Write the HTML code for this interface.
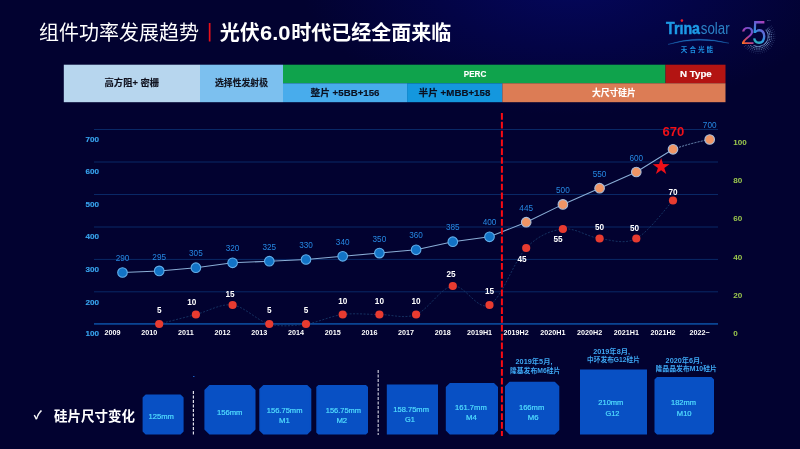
<!DOCTYPE html>
<html lang="zh-CN"><head><meta charset="utf-8"><title>组件功率发展趋势</title>
<style>
html,body{margin:0;padding:0;background:#020230;}
body{width:800px;height:449px;overflow:hidden;}
svg{display:block;font-family:"Liberation Sans","Noto Sans CJK SC",sans-serif;}
.t{text-anchor:middle;}
</style></head><body>
<svg width="800" height="449" viewBox="0 0 800 449">
<defs>
<radialGradient id="bg" gradientUnits="userSpaceOnUse" cx="0" cy="0" r="1" gradientTransform="translate(570 -20) scale(270 135)">
<stop offset="0" stop-color="#04075c"/><stop offset="0.5" stop-color="#030446"/><stop offset="1" stop-color="#020230"/>
</radialGradient>
<linearGradient id="g2" x1="0.8" y1="0" x2="0.2" y2="1">
<stop offset="0" stop-color="#2a78d8"/><stop offset="0.45" stop-color="#9a3cc0"/><stop offset="0.8" stop-color="#f0562e"/><stop offset="1" stop-color="#f0b030"/>
</linearGradient>
<linearGradient id="g5" x1="0.7" y1="0" x2="0.3" y2="1">
<stop offset="0" stop-color="#e030a0"/><stop offset="0.3" stop-color="#7a50d0"/><stop offset="0.6" stop-color="#2a9ae0"/><stop offset="1" stop-color="#30c0a0"/>
</linearGradient>
</defs>
<rect width="800" height="449" fill="#020230"/>
<rect width="800" height="449" fill="url(#bg)"/>

<text x="39" y="39.5" font-size="20" fill="#ffffff" font-weight="400">组件功率发展趋势</text>
<rect x="208.8" y="23" width="1.7" height="18.5" fill="#e8101a"/>
<text y="39.5" font-size="20" fill="#ffffff" font-weight="700"><tspan x="219.7">光伏</tspan><tspan x="260" textLength="30.5" lengthAdjust="spacingAndGlyphs">6.0</tspan><tspan x="291.2">时代已经全面来临</tspan></text>
<text x="666" y="34" font-size="16.5" font-weight="700" fill="#1d9be6" stroke="#1d9be6" stroke-width="0.5" textLength="34" lengthAdjust="spacingAndGlyphs">Trına</text>
<text x="700.8" y="34" font-size="16" fill="#2b82c6" textLength="28.8" lengthAdjust="spacingAndGlyphs">solar</text>
<circle cx="681.9" cy="20.6" r="1.3" fill="#e8202a"/>
<path d="M668 44.4 Q697 34.5 729 43.2 Q697 36.6 668 44.4 Z" fill="#1d6fc0" stroke="#1d6fc0" stroke-width="0.3"/>
<text x="698" y="51.5" font-size="6.6" font-weight="700" fill="#1d8fe0" class="t" letter-spacing="2">天合光能</text>
<text x="740.8" y="43.8" font-size="24.5" fill="url(#g2)" textLength="14" lengthAdjust="spacingAndGlyphs">2</text>
<text x="752" y="44" font-size="33" fill="url(#g5)" textLength="14.5" lengthAdjust="spacingAndGlyphs">5</text>
<text x="767" y="21" font-size="2.5" fill="#8090c0">TM</text>
<circle cx="766.1" cy="30.0" r="0.62" fill="#8fb6ea" opacity="0.95"/>
<circle cx="767.4" cy="29.0" r="0.57" fill="#8fb6ea" opacity="0.82"/>
<circle cx="768.8" cy="27.9" r="0.52" fill="#8fb6ea" opacity="0.69"/>
<circle cx="770.1" cy="26.9" r="0.47" fill="#8fb6ea" opacity="0.56"/>
<circle cx="771.5" cy="25.9" r="0.42" fill="#8fb6ea" opacity="0.43"/>
<circle cx="766.8" cy="31.1" r="0.62" fill="#8fb6ea" opacity="0.95"/>
<circle cx="768.3" cy="30.3" r="0.57" fill="#8fb6ea" opacity="0.82"/>
<circle cx="769.8" cy="29.4" r="0.52" fill="#8fb6ea" opacity="0.69"/>
<circle cx="771.3" cy="28.6" r="0.47" fill="#8fb6ea" opacity="0.56"/>
<circle cx="772.7" cy="27.7" r="0.42" fill="#8fb6ea" opacity="0.43"/>
<circle cx="767.4" cy="32.3" r="0.62" fill="#8fb6ea" opacity="0.95"/>
<circle cx="769.0" cy="31.6" r="0.57" fill="#8fb6ea" opacity="0.82"/>
<circle cx="770.6" cy="31.0" r="0.52" fill="#8fb6ea" opacity="0.69"/>
<circle cx="772.1" cy="30.3" r="0.47" fill="#8fb6ea" opacity="0.56"/>
<circle cx="773.7" cy="29.7" r="0.42" fill="#8fb6ea" opacity="0.43"/>
<circle cx="767.9" cy="33.6" r="0.62" fill="#8fb6ea" opacity="0.95"/>
<circle cx="769.5" cy="33.1" r="0.57" fill="#8fb6ea" opacity="0.82"/>
<circle cx="771.1" cy="32.7" r="0.52" fill="#8fb6ea" opacity="0.69"/>
<circle cx="772.8" cy="32.2" r="0.47" fill="#8fb6ea" opacity="0.56"/>
<circle cx="774.4" cy="31.8" r="0.42" fill="#8fb6ea" opacity="0.43"/>
<circle cx="768.1" cy="34.9" r="0.62" fill="#8fb6ea" opacity="0.95"/>
<circle cx="769.8" cy="34.6" r="0.57" fill="#8fb6ea" opacity="0.82"/>
<circle cx="771.5" cy="34.4" r="0.52" fill="#8fb6ea" opacity="0.69"/>
<circle cx="773.2" cy="34.2" r="0.47" fill="#8fb6ea" opacity="0.56"/>
<circle cx="774.9" cy="34.0" r="0.42" fill="#8fb6ea" opacity="0.43"/>
<circle cx="768.2" cy="36.2" r="0.62" fill="#8fb6ea" opacity="0.95"/>
<circle cx="769.9" cy="36.2" r="0.57" fill="#8fb6ea" opacity="0.82"/>
<circle cx="771.6" cy="36.2" r="0.52" fill="#8fb6ea" opacity="0.69"/>
<circle cx="773.3" cy="36.2" r="0.47" fill="#8fb6ea" opacity="0.56"/>
<circle cx="775.0" cy="36.2" r="0.42" fill="#8fb6ea" opacity="0.43"/>
<circle cx="768.1" cy="37.5" r="0.62" fill="#8fb6ea" opacity="0.95"/>
<circle cx="769.8" cy="37.8" r="0.57" fill="#8fb6ea" opacity="0.82"/>
<circle cx="771.5" cy="38.0" r="0.52" fill="#8fb6ea" opacity="0.69"/>
<circle cx="773.2" cy="38.2" r="0.47" fill="#8fb6ea" opacity="0.56"/>
<circle cx="774.9" cy="38.4" r="0.42" fill="#8fb6ea" opacity="0.43"/>
<circle cx="767.9" cy="38.8" r="0.62" fill="#8fb6ea" opacity="0.95"/>
<circle cx="769.5" cy="39.3" r="0.57" fill="#8fb6ea" opacity="0.82"/>
<circle cx="771.1" cy="39.7" r="0.52" fill="#8fb6ea" opacity="0.69"/>
<circle cx="772.8" cy="40.2" r="0.47" fill="#8fb6ea" opacity="0.56"/>
<circle cx="774.4" cy="40.6" r="0.42" fill="#8fb6ea" opacity="0.43"/>
<circle cx="767.4" cy="40.1" r="0.62" fill="#8fb6ea" opacity="0.95"/>
<circle cx="769.0" cy="40.8" r="0.57" fill="#8fb6ea" opacity="0.82"/>
<circle cx="770.6" cy="41.4" r="0.52" fill="#8fb6ea" opacity="0.69"/>
<circle cx="772.1" cy="42.1" r="0.47" fill="#8fb6ea" opacity="0.56"/>
<circle cx="773.7" cy="42.7" r="0.42" fill="#8fb6ea" opacity="0.43"/>
<circle cx="766.8" cy="41.3" r="0.62" fill="#8fb6ea" opacity="0.95"/>
<circle cx="768.3" cy="42.2" r="0.57" fill="#8fb6ea" opacity="0.82"/>
<circle cx="769.8" cy="43.0" r="0.52" fill="#8fb6ea" opacity="0.69"/>
<circle cx="771.3" cy="43.9" r="0.47" fill="#8fb6ea" opacity="0.56"/>
<circle cx="772.7" cy="44.7" r="0.42" fill="#8fb6ea" opacity="0.43"/>
<circle cx="766.1" cy="42.4" r="0.62" fill="#8fb6ea" opacity="0.95"/>
<circle cx="767.4" cy="43.4" r="0.57" fill="#8fb6ea" opacity="0.82"/>
<circle cx="768.8" cy="44.5" r="0.52" fill="#8fb6ea" opacity="0.69"/>
<circle cx="770.1" cy="45.5" r="0.47" fill="#8fb6ea" opacity="0.56"/>
<circle cx="771.5" cy="46.5" r="0.42" fill="#8fb6ea" opacity="0.43"/>
<circle cx="765.2" cy="43.4" r="0.62" fill="#8fb6ea" opacity="0.95"/>
<circle cx="766.4" cy="44.6" r="0.57" fill="#8fb6ea" opacity="0.82"/>
<circle cx="767.6" cy="45.8" r="0.52" fill="#8fb6ea" opacity="0.69"/>
<circle cx="768.8" cy="47.0" r="0.47" fill="#8fb6ea" opacity="0.56"/>
<circle cx="770.0" cy="48.2" r="0.42" fill="#8fb6ea" opacity="0.43"/>
<circle cx="764.2" cy="44.3" r="0.62" fill="#8fb6ea" opacity="0.95"/>
<circle cx="765.2" cy="45.6" r="0.57" fill="#8fb6ea" opacity="0.82"/>
<circle cx="766.3" cy="47.0" r="0.52" fill="#8fb6ea" opacity="0.69"/>
<circle cx="767.3" cy="48.3" r="0.47" fill="#8fb6ea" opacity="0.56"/>
<circle cx="768.3" cy="49.7" r="0.42" fill="#8fb6ea" opacity="0.43"/>
<circle cx="763.1" cy="45.0" r="0.62" fill="#8fb6ea" opacity="0.95"/>
<circle cx="764.0" cy="46.5" r="0.57" fill="#8fb6ea" opacity="0.82"/>
<circle cx="764.8" cy="48.0" r="0.52" fill="#8fb6ea" opacity="0.69"/>
<circle cx="765.6" cy="49.5" r="0.47" fill="#8fb6ea" opacity="0.56"/>
<circle cx="766.5" cy="50.9" r="0.42" fill="#8fb6ea" opacity="0.43"/>
<circle cx="761.9" cy="45.6" r="0.62" fill="#8fb6ea" opacity="0.95"/>
<circle cx="762.6" cy="47.2" r="0.57" fill="#8fb6ea" opacity="0.82"/>
<circle cx="763.2" cy="48.8" r="0.52" fill="#8fb6ea" opacity="0.69"/>
<circle cx="763.9" cy="50.3" r="0.47" fill="#8fb6ea" opacity="0.56"/>
<circle cx="764.5" cy="51.9" r="0.42" fill="#8fb6ea" opacity="0.43"/>
<circle cx="760.6" cy="46.1" r="0.62" fill="#8fb6ea" opacity="0.95"/>
<circle cx="761.1" cy="47.7" r="0.57" fill="#8fb6ea" opacity="0.82"/>
<circle cx="761.5" cy="49.3" r="0.52" fill="#8fb6ea" opacity="0.69"/>
<circle cx="762.0" cy="51.0" r="0.47" fill="#8fb6ea" opacity="0.56"/>
<circle cx="762.4" cy="52.6" r="0.42" fill="#8fb6ea" opacity="0.43"/>
<circle cx="759.3" cy="46.3" r="0.62" fill="#8fb6ea" opacity="0.95"/>
<circle cx="759.6" cy="48.0" r="0.57" fill="#8fb6ea" opacity="0.82"/>
<circle cx="759.8" cy="49.7" r="0.52" fill="#8fb6ea" opacity="0.69"/>
<circle cx="760.0" cy="51.4" r="0.47" fill="#8fb6ea" opacity="0.56"/>
<circle cx="760.2" cy="53.1" r="0.42" fill="#8fb6ea" opacity="0.43"/>
<circle cx="758.0" cy="46.4" r="0.62" fill="#8fb6ea" opacity="0.95"/>
<circle cx="758.0" cy="48.1" r="0.57" fill="#8fb6ea" opacity="0.82"/>
<circle cx="758.0" cy="49.8" r="0.52" fill="#8fb6ea" opacity="0.69"/>
<circle cx="758.0" cy="51.5" r="0.47" fill="#8fb6ea" opacity="0.56"/>
<circle cx="758.0" cy="53.2" r="0.42" fill="#8fb6ea" opacity="0.43"/>
<circle cx="756.7" cy="46.3" r="0.62" fill="#8fb6ea" opacity="0.95"/>
<circle cx="756.4" cy="48.0" r="0.57" fill="#8fb6ea" opacity="0.82"/>
<circle cx="756.2" cy="49.7" r="0.52" fill="#8fb6ea" opacity="0.69"/>
<circle cx="756.0" cy="51.4" r="0.47" fill="#8fb6ea" opacity="0.56"/>
<circle cx="755.8" cy="53.1" r="0.42" fill="#8fb6ea" opacity="0.43"/>
<circle cx="755.4" cy="46.1" r="0.62" fill="#8fb6ea" opacity="0.95"/>
<circle cx="754.9" cy="47.7" r="0.57" fill="#8fb6ea" opacity="0.82"/>
<circle cx="754.5" cy="49.3" r="0.52" fill="#8fb6ea" opacity="0.69"/>
<circle cx="754.0" cy="51.0" r="0.47" fill="#8fb6ea" opacity="0.56"/>
<circle cx="753.6" cy="52.6" r="0.42" fill="#8fb6ea" opacity="0.43"/>
<circle cx="754.1" cy="45.6" r="0.62" fill="#8fb6ea" opacity="0.95"/>
<circle cx="753.4" cy="47.2" r="0.57" fill="#8fb6ea" opacity="0.82"/>
<circle cx="752.8" cy="48.8" r="0.52" fill="#8fb6ea" opacity="0.69"/>
<circle cx="752.1" cy="50.3" r="0.47" fill="#8fb6ea" opacity="0.56"/>
<circle cx="751.5" cy="51.9" r="0.42" fill="#8fb6ea" opacity="0.43"/>
<circle cx="752.0" cy="46.5" r="0.57" fill="#8fb6ea" opacity="0.82"/>
<circle cx="751.2" cy="48.0" r="0.52" fill="#8fb6ea" opacity="0.69"/>
<circle cx="750.4" cy="49.5" r="0.47" fill="#8fb6ea" opacity="0.56"/>
<circle cx="749.5" cy="50.9" r="0.42" fill="#8fb6ea" opacity="0.43"/>
<circle cx="750.8" cy="45.6" r="0.57" fill="#8fb6ea" opacity="0.82"/>
<circle cx="749.7" cy="47.0" r="0.52" fill="#8fb6ea" opacity="0.69"/>
<circle cx="748.7" cy="48.3" r="0.47" fill="#8fb6ea" opacity="0.56"/>
<circle cx="747.7" cy="49.7" r="0.42" fill="#8fb6ea" opacity="0.43"/>
<circle cx="748.4" cy="45.8" r="0.52" fill="#8fb6ea" opacity="0.69"/>
<circle cx="747.2" cy="47.0" r="0.47" fill="#8fb6ea" opacity="0.56"/>
<circle cx="746.0" cy="48.2" r="0.42" fill="#8fb6ea" opacity="0.43"/>
<circle cx="745.9" cy="45.5" r="0.47" fill="#8fb6ea" opacity="0.56"/>
<circle cx="744.5" cy="46.5" r="0.42" fill="#8fb6ea" opacity="0.43"/>
<rect x="63.8" y="64.7" width="136.2" height="37.5" fill="#b7d6ee"/>
<rect x="200" y="64.7" width="83" height="37.5" fill="#7cc0ef"/>
<rect x="283" y="64.7" width="382.5" height="18.7" fill="#0fa34c"/>
<rect x="665.5" y="64.7" width="60" height="18.7" fill="#b31412"/>
<rect x="283" y="83.3" width="124.2" height="18.9" fill="#48acec"/>
<rect x="407.1" y="83.3" width="95.4" height="18.9" fill="#1497de"/>
<rect x="502.4" y="83.3" width="223.1" height="18.9" fill="#dc7c55"/>
<text x="131.8" y="86.19999999999999" font-size="8.8" font-weight="700" fill="#10121e" stroke="#10121e" stroke-width="0.15" class="t" textLength="54.5" lengthAdjust="spacingAndGlyphs">高方阻+ 密栅</text>
<text x="241.5" y="86.19999999999999" font-size="8.8" font-weight="700" fill="#10121e" stroke="#10121e" stroke-width="0.15" class="t" textLength="53" lengthAdjust="spacingAndGlyphs">选择性发射极</text>
<text x="475" y="77.0" font-size="8.8" font-weight="700" fill="#ffffff" stroke="#ffffff" stroke-width="0.15" class="t" textLength="22.5" lengthAdjust="spacingAndGlyphs">PERC</text>
<text x="695.9" y="77.3" font-size="8.8" font-weight="700" fill="#ffffff" stroke="#ffffff" stroke-width="0.15" class="t" textLength="31.8" lengthAdjust="spacingAndGlyphs">N Type</text>
<text x="345" y="96.1" font-size="8.8" font-weight="700" fill="#0a1020" stroke="#0a1020" stroke-width="0.15" class="t" textLength="68.9" lengthAdjust="spacingAndGlyphs">整片 +5BB+156</text>
<text x="454.4" y="96.1" font-size="8.8" font-weight="700" fill="#0a1020" stroke="#0a1020" stroke-width="0.15" class="t" textLength="71.8" lengthAdjust="spacingAndGlyphs">半片 +MBB+158</text>
<text x="613.8" y="95.8" font-size="8.8" font-weight="700" fill="#ffffff" stroke="#ffffff" stroke-width="0.15" class="t" textLength="43.8" lengthAdjust="spacingAndGlyphs">大尺寸硅片</text>
<rect x="94" y="129.0" width="624" height="1" fill="#092866"/>
<rect x="94" y="161.5" width="624" height="1" fill="#092866"/>
<rect x="94" y="194.0" width="624" height="1" fill="#092866"/>
<rect x="94" y="226.5" width="624" height="1" fill="#092866"/>
<rect x="94" y="258.9" width="624" height="1" fill="#092866"/>
<rect x="94" y="291.3" width="624" height="1" fill="#092866"/>
<rect x="94" y="323" width="624" height="1.8" fill="#0a4492"/>
<text x="92.3" y="142.20000000000002" font-size="8.1" font-weight="700" fill="#38a4ee" stroke="#38a4ee" stroke-width="0.15" class="t">700</text>
<text x="92.3" y="174.4" font-size="8.1" font-weight="700" fill="#38a4ee" stroke="#38a4ee" stroke-width="0.15" class="t">600</text>
<text x="92.3" y="206.9" font-size="8.1" font-weight="700" fill="#38a4ee" stroke="#38a4ee" stroke-width="0.15" class="t">500</text>
<text x="92.3" y="238.9" font-size="8.1" font-weight="700" fill="#38a4ee" stroke="#38a4ee" stroke-width="0.15" class="t">400</text>
<text x="92.3" y="271.9" font-size="8.1" font-weight="700" fill="#38a4ee" stroke="#38a4ee" stroke-width="0.15" class="t">300</text>
<text x="92.3" y="304.5" font-size="8.1" font-weight="700" fill="#38a4ee" stroke="#38a4ee" stroke-width="0.15" class="t">200</text>
<text x="92.3" y="336.2" font-size="8.1" font-weight="700" fill="#38a4ee" stroke="#38a4ee" stroke-width="0.15" class="t">100</text>
<text x="733.2" y="144.9" font-size="8.1" font-weight="700" fill="#9cc84e">100</text>
<text x="733.2" y="182.9" font-size="8.1" font-weight="700" fill="#9cc84e">80</text>
<text x="733.2" y="221.4" font-size="8.1" font-weight="700" fill="#9cc84e">60</text>
<text x="733.2" y="259.9" font-size="8.1" font-weight="700" fill="#9cc84e">40</text>
<text x="733.2" y="297.9" font-size="8.1" font-weight="700" fill="#9cc84e">20</text>
<text x="733.2" y="335.9" font-size="8.1" font-weight="700" fill="#9cc84e">0</text>
<text x="112.5" y="335.2" font-size="7.2" font-weight="700" fill="#ffffff" class="t">2009</text>
<text x="149.2" y="335.2" font-size="7.2" font-weight="700" fill="#ffffff" class="t">2010</text>
<text x="185.9" y="335.2" font-size="7.2" font-weight="700" fill="#ffffff" class="t">2011</text>
<text x="222.6" y="335.2" font-size="7.2" font-weight="700" fill="#ffffff" class="t">2012</text>
<text x="259.3" y="335.2" font-size="7.2" font-weight="700" fill="#ffffff" class="t">2013</text>
<text x="296.0" y="335.2" font-size="7.2" font-weight="700" fill="#ffffff" class="t">2014</text>
<text x="332.7" y="335.2" font-size="7.2" font-weight="700" fill="#ffffff" class="t">2015</text>
<text x="369.4" y="335.2" font-size="7.2" font-weight="700" fill="#ffffff" class="t">2016</text>
<text x="406.1" y="335.2" font-size="7.2" font-weight="700" fill="#ffffff" class="t">2017</text>
<text x="442.8" y="335.2" font-size="7.2" font-weight="700" fill="#ffffff" class="t">2018</text>
<text x="479.5" y="335.2" font-size="7.2" font-weight="700" fill="#ffffff" class="t">2019H1</text>
<text x="516.2" y="335.2" font-size="7.2" font-weight="700" fill="#ffffff" class="t">2019H2</text>
<text x="552.9" y="335.2" font-size="7.2" font-weight="700" fill="#ffffff" class="t">2020H1</text>
<text x="589.6" y="335.2" font-size="7.2" font-weight="700" fill="#ffffff" class="t">2020H2</text>
<text x="626.3" y="335.2" font-size="7.2" font-weight="700" fill="#ffffff" class="t">2021H1</text>
<text x="663.0" y="335.2" font-size="7.2" font-weight="700" fill="#ffffff" class="t">2021H2</text>
<text x="699.7" y="335.2" font-size="7.2" font-weight="700" fill="#ffffff" class="t">2022~</text>
<path d="M159.2 324.0 C165.3 322.4 183.7 317.7 195.9 314.5 C208.1 311.3 220.4 303.4 232.6 305.0 C244.8 306.6 257.1 320.8 269.3 324.0 C281.5 327.2 293.8 325.6 306.0 324.0 C318.2 322.4 330.5 316.1 342.7 314.5 C354.9 312.9 367.2 314.5 379.4 314.5 C391.6 314.5 403.9 319.2 416.1 314.5 C428.3 309.8 440.6 287.6 452.8 286.0 C465.0 284.4 477.3 311.3 489.5 305.0 C501.7 298.7 514.0 260.7 526.2 248.0 C538.4 235.3 550.7 230.6 562.9 229.0 C575.1 227.4 587.4 236.9 599.6 238.5 C611.8 240.1 624.1 244.8 636.3 238.5 C648.5 232.2 666.9 206.8 673.0 200.5" fill="none" stroke="#193c6c" stroke-width="0.8" stroke-dasharray="2 1.5"/>
<path d="M122.5 272.5 L159.2 270.9 L195.9 267.7 L232.6 262.8 L269.3 261.2 L306.0 259.5 L342.7 256.3 L379.4 253.1 L416.1 249.8 L452.8 241.7 L489.5 236.8 L526.2 222.2 L562.9 204.4 L599.6 188.2 L636.3 172.0 L673.0 149.3" fill="none" stroke="#8aaed6" stroke-width="1.05"/>
<path d="M673.0 149.3 Q691.4 142.9 709.7 139.5" fill="none" stroke="#7fa4cc" stroke-width="0.9" stroke-dasharray="2 1.2"/>
<path d="M501.9 113 V436" fill="none" stroke="#f80a12" stroke-width="2" stroke-dasharray="6.7 2.13"/>
<circle cx="159.2" cy="324.0" r="4.1" fill="#e83b30"/>
<circle cx="195.9" cy="314.5" r="4.1" fill="#e83b30"/>
<circle cx="232.6" cy="305.0" r="4.1" fill="#e83b30"/>
<circle cx="269.3" cy="324.0" r="4.1" fill="#e83b30"/>
<circle cx="306.0" cy="324.0" r="4.1" fill="#e83b30"/>
<circle cx="342.7" cy="314.5" r="4.1" fill="#e83b30"/>
<circle cx="379.4" cy="314.5" r="4.1" fill="#e83b30"/>
<circle cx="416.1" cy="314.5" r="4.1" fill="#e83b30"/>
<circle cx="452.8" cy="286.0" r="4.1" fill="#e83b30"/>
<circle cx="489.5" cy="305.0" r="4.1" fill="#e83b30"/>
<circle cx="526.2" cy="248.0" r="4.1" fill="#e83b30"/>
<circle cx="562.9" cy="229.0" r="4.1" fill="#e83b30"/>
<circle cx="599.6" cy="238.5" r="4.1" fill="#e83b30"/>
<circle cx="636.3" cy="238.5" r="4.1" fill="#e83b30"/>
<circle cx="673.0" cy="200.5" r="4.1" fill="#e83b30"/>
<circle cx="122.5" cy="272.5" r="4.8" fill="#1273c6" stroke="#62aeea" stroke-width="1.1"/>
<circle cx="159.2" cy="270.9" r="4.8" fill="#1273c6" stroke="#62aeea" stroke-width="1.1"/>
<circle cx="195.9" cy="267.7" r="4.8" fill="#1273c6" stroke="#62aeea" stroke-width="1.1"/>
<circle cx="232.6" cy="262.8" r="4.8" fill="#1273c6" stroke="#62aeea" stroke-width="1.1"/>
<circle cx="269.3" cy="261.2" r="4.8" fill="#1273c6" stroke="#62aeea" stroke-width="1.1"/>
<circle cx="306.0" cy="259.5" r="4.8" fill="#1273c6" stroke="#62aeea" stroke-width="1.1"/>
<circle cx="342.7" cy="256.3" r="4.8" fill="#1273c6" stroke="#62aeea" stroke-width="1.1"/>
<circle cx="379.4" cy="253.1" r="4.8" fill="#1273c6" stroke="#62aeea" stroke-width="1.1"/>
<circle cx="416.1" cy="249.8" r="4.8" fill="#1273c6" stroke="#62aeea" stroke-width="1.1"/>
<circle cx="452.8" cy="241.7" r="4.8" fill="#1273c6" stroke="#62aeea" stroke-width="1.1"/>
<circle cx="489.5" cy="236.8" r="4.8" fill="#1273c6" stroke="#62aeea" stroke-width="1.1"/>
<circle cx="526.2" cy="222.2" r="4.8" fill="#f09565" stroke="#a8bcd8" stroke-width="1.1"/>
<circle cx="562.9" cy="204.4" r="4.8" fill="#f09565" stroke="#a8bcd8" stroke-width="1.1"/>
<circle cx="599.6" cy="188.2" r="4.8" fill="#f09565" stroke="#a8bcd8" stroke-width="1.1"/>
<circle cx="636.3" cy="172.0" r="4.8" fill="#f09565" stroke="#a8bcd8" stroke-width="1.1"/>
<circle cx="673.0" cy="149.3" r="4.8" fill="#f09565" stroke="#a8bcd8" stroke-width="1.1"/>
<circle cx="709.7" cy="139.5" r="4.8" fill="#f09565" stroke="#a8bcd8" stroke-width="1.1"/>
<text x="122.5" y="261.1" font-size="8.2" fill="#2688e2" class="t">290</text>
<text x="159.2" y="259.5" font-size="8.2" fill="#2688e2" class="t">295</text>
<text x="195.9" y="256.3" font-size="8.2" fill="#2688e2" class="t">305</text>
<text x="232.6" y="251.4" font-size="8.2" fill="#2688e2" class="t">320</text>
<text x="269.3" y="249.8" font-size="8.2" fill="#2688e2" class="t">325</text>
<text x="306.0" y="248.1" font-size="8.2" fill="#2688e2" class="t">330</text>
<text x="342.7" y="244.9" font-size="8.2" fill="#2688e2" class="t">340</text>
<text x="379.4" y="241.7" font-size="8.2" fill="#2688e2" class="t">350</text>
<text x="416.1" y="238.4" font-size="8.2" fill="#2688e2" class="t">360</text>
<text x="452.8" y="230.3" font-size="8.2" fill="#2688e2" class="t">385</text>
<text x="489.5" y="225.4" font-size="8.2" fill="#2688e2" class="t">400</text>
<text x="526.2" y="210.8" font-size="8.2" fill="#2688e2" class="t">445</text>
<text x="562.9" y="193.0" font-size="8.2" fill="#2688e2" class="t">500</text>
<text x="599.6" y="176.8" font-size="8.2" fill="#2688e2" class="t">550</text>
<text x="636.3" y="160.6" font-size="8.2" fill="#2688e2" class="t">600</text>
<text x="709.7" y="128.1" font-size="8.2" fill="#2688e2" class="t">700</text>
<text x="673.4" y="136" font-size="12.8" font-weight="700" fill="#f01018" class="t" textLength="21.8" lengthAdjust="spacingAndGlyphs">670</text>
<polygon points="661.1,158.1 663.1,164.1 669.5,164.2 664.3,168.0 666.3,174.0 661.1,170.3 655.9,174.0 657.9,168.0 652.7,164.2 659.1,164.1" fill="#f01018"/>
<text x="159.3" y="313.2" font-size="8.2" font-weight="700" fill="#ffffff" class="t">5</text>
<text x="191.8" y="304.5" font-size="8.2" font-weight="700" fill="#ffffff" class="t">10</text>
<text x="230" y="296.5" font-size="8.2" font-weight="700" fill="#ffffff" class="t">15</text>
<text x="269.3" y="312.7" font-size="8.2" font-weight="700" fill="#ffffff" class="t">5</text>
<text x="306" y="312.7" font-size="8.2" font-weight="700" fill="#ffffff" class="t">5</text>
<text x="342.7" y="303.5" font-size="8.2" font-weight="700" fill="#ffffff" class="t">10</text>
<text x="379.4" y="303.5" font-size="8.2" font-weight="700" fill="#ffffff" class="t">10</text>
<text x="416.1" y="303.5" font-size="8.2" font-weight="700" fill="#ffffff" class="t">10</text>
<text x="451" y="276.7" font-size="8.2" font-weight="700" fill="#ffffff" class="t">25</text>
<text x="489.5" y="294.2" font-size="8.2" font-weight="700" fill="#ffffff" class="t">15</text>
<text x="522" y="262.2" font-size="8.2" font-weight="700" fill="#ffffff" class="t">45</text>
<text x="558" y="241.5" font-size="8.2" font-weight="700" fill="#ffffff" class="t">55</text>
<text x="599.5" y="229.7" font-size="8.2" font-weight="700" fill="#ffffff" class="t">50</text>
<text x="634.5" y="230.7" font-size="8.2" font-weight="700" fill="#ffffff" class="t">50</text>
<text x="673" y="194.7" font-size="8.2" font-weight="700" fill="#ffffff" class="t">70</text>
<text x="34" y="419.3" font-size="11" fill="#ffffff" stroke="#ffffff" stroke-width="0.4">✓</text>
<text x="54" y="421" font-size="13.5" font-weight="700" fill="#ffffff">硅片尺寸变化</text>
<path d="M145.92 395.2 H180.28 L182.8 397.72 V431.18 L180.28 433.7 H145.92 L143.4 431.18 V397.72 Z" fill="#0850c4" stroke="#0850c4" stroke-width="1.6" stroke-linejoin="round"/>
<text x="161.2" y="418.79999999999995" font-size="6.8" fill="#50dcff" stroke="#50dcff" stroke-width="0.2" class="t" textLength="25.4" lengthAdjust="spacingAndGlyphs">125mm</text>
<path d="M209.72 385.8 H250.18 L254.7 390.32 V429.18 L250.18 433.7 H209.72 L205.2 429.18 V390.32 Z" fill="#0850c4" stroke="#0850c4" stroke-width="1.6" stroke-linejoin="round"/>
<text x="229.7" y="414.59999999999997" font-size="6.8" fill="#50dcff" stroke="#50dcff" stroke-width="0.2" class="t" textLength="25.5" lengthAdjust="spacingAndGlyphs">156mm</text>
<path d="M263.62 385.8 H306.98 L310.5 389.32 V430.18 L306.98 433.7 H263.62 L260.1 430.18 V389.32 Z" fill="#0850c4" stroke="#0850c4" stroke-width="1.6" stroke-linejoin="round"/>
<text x="284.6" y="413.2" font-size="6.8" fill="#50dcff" stroke="#50dcff" stroke-width="0.2" class="t" textLength="35.7" lengthAdjust="spacingAndGlyphs">156.75mm</text>
<text x="284.4" y="423.2" font-size="6.8" fill="#50dcff" stroke="#50dcff" stroke-width="0.2" class="t" textLength="10.8" lengthAdjust="spacingAndGlyphs">M1</text>
<path d="M318.62 385.8 H365.68 L367.2 387.32 V432.18 L365.68 433.7 H318.62 L317.1 432.18 V387.32 Z" fill="#0850c4" stroke="#0850c4" stroke-width="1.6" stroke-linejoin="round"/>
<text x="343.4" y="413.2" font-size="6.8" fill="#50dcff" stroke="#50dcff" stroke-width="0.2" class="t" textLength="35.3" lengthAdjust="spacingAndGlyphs">156.75mm</text>
<text x="341.8" y="423.2" font-size="6.8" fill="#50dcff" stroke="#50dcff" stroke-width="0.2" class="t" textLength="10.8" lengthAdjust="spacingAndGlyphs">M2</text>
<path d="M386.80 384.5 H438.00 L438.0 384.50 V434.50 L438.00 434.5 H386.80 L386.8 434.50 V384.50 Z" fill="#0850c4" stroke="#0850c4" stroke-width="0" stroke-linejoin="round"/>
<text x="411.1" y="411.9" font-size="6.8" fill="#50dcff" stroke="#50dcff" stroke-width="0.2" class="t" textLength="35.7" lengthAdjust="spacingAndGlyphs">158.75mm</text>
<text x="410" y="422.4" font-size="6.8" fill="#50dcff" stroke="#50dcff" stroke-width="0.2" class="t" textLength="9.8" lengthAdjust="spacingAndGlyphs">G1</text>
<path d="M450.12 383.8 H493.68 L497.2 387.32 V430.18 L493.68 433.7 H450.12 L446.6 430.18 V387.32 Z" fill="#0850c4" stroke="#0850c4" stroke-width="1.6" stroke-linejoin="round"/>
<text x="470.9" y="409.9" font-size="6.8" fill="#50dcff" stroke="#50dcff" stroke-width="0.2" class="t" textLength="31.7" lengthAdjust="spacingAndGlyphs">161.7mm</text>
<text x="471.5" y="420.4" font-size="6.8" fill="#50dcff" stroke="#50dcff" stroke-width="0.2" class="t" textLength="10.8" lengthAdjust="spacingAndGlyphs">M4</text>
<path d="M509.82 382.6 H554.48 L558.5 386.62 V429.68 L554.48 433.7 H509.82 L505.8 429.68 V386.62 Z" fill="#0850c4" stroke="#0850c4" stroke-width="1.6" stroke-linejoin="round"/>
<text x="531.6" y="409.9" font-size="6.8" fill="#50dcff" stroke="#50dcff" stroke-width="0.2" class="t" textLength="25.3" lengthAdjust="spacingAndGlyphs">166mm</text>
<text x="533.2" y="420.4" font-size="6.8" fill="#50dcff" stroke="#50dcff" stroke-width="0.2" class="t" textLength="10.8" lengthAdjust="spacingAndGlyphs">M6</text>
<path d="M580.00 369.5 H647.00 L647.0 369.50 V434.50 L647.00 434.5 H580.00 L580.0 434.50 V369.50 Z" fill="#0850c4" stroke="#0850c4" stroke-width="0" stroke-linejoin="round"/>
<text x="610.8" y="404.9" font-size="6.8" fill="#50dcff" stroke="#50dcff" stroke-width="0.2" class="t" textLength="25" lengthAdjust="spacingAndGlyphs">210mm</text>
<text x="612.5" y="415.59999999999997" font-size="6.8" fill="#50dcff" stroke="#50dcff" stroke-width="0.2" class="t" textLength="14" lengthAdjust="spacingAndGlyphs">G12</text>
<path d="M657.32 377.8 H711.18 L713.2 379.82 V431.68 L711.18 433.7 H657.32 L655.3 431.68 V379.82 Z" fill="#0850c4" stroke="#0850c4" stroke-width="1.6" stroke-linejoin="round"/>
<text x="683.5" y="404.9" font-size="6.8" fill="#50dcff" stroke="#50dcff" stroke-width="0.2" class="t" textLength="25" lengthAdjust="spacingAndGlyphs">182mm</text>
<text x="684.2" y="415.59999999999997" font-size="6.8" fill="#50dcff" stroke="#50dcff" stroke-width="0.2" class="t" textLength="14.8" lengthAdjust="spacingAndGlyphs">M10</text>
<path d="M193.4 391 V436" stroke="#e0e0ec" stroke-width="1.2" stroke-dasharray="3 1.5" fill="none"/>
<path d="M378.2 370 V435" stroke="#c4c4d4" stroke-width="1.2" stroke-dasharray="3 1.5" fill="none"/>
<rect x="193" y="376" width="1.5" height="1" fill="#1a5fc0"/>
<text x="534" y="364.4" font-size="6.7" font-weight="700" fill="#3ea8f4" class="t" textLength="37" lengthAdjust="spacingAndGlyphs">2019年5月,</text>
<text x="535.2" y="372.9" font-size="6.7" font-weight="700" fill="#3ea8f4" class="t" textLength="50.5" lengthAdjust="spacingAndGlyphs">隆基发布M6硅片</text>
<text x="611.6" y="353.59999999999997" font-size="6.7" font-weight="700" fill="#3ea8f4" class="t" textLength="36.8" lengthAdjust="spacingAndGlyphs">2019年8月,</text>
<text x="613.5" y="361.59999999999997" font-size="6.7" font-weight="700" fill="#3ea8f4" class="t" textLength="53" lengthAdjust="spacingAndGlyphs">中环发布G12硅片</text>
<text x="684" y="362.9" font-size="6.7" font-weight="700" fill="#3ea8f4" class="t" textLength="36.8" lengthAdjust="spacingAndGlyphs">2020年6月,</text>
<text x="686.2" y="371.2" font-size="6.7" font-weight="700" fill="#3ea8f4" class="t" textLength="61.5" lengthAdjust="spacingAndGlyphs">隆晶晶发布M10硅片</text>
</svg></body></html>
